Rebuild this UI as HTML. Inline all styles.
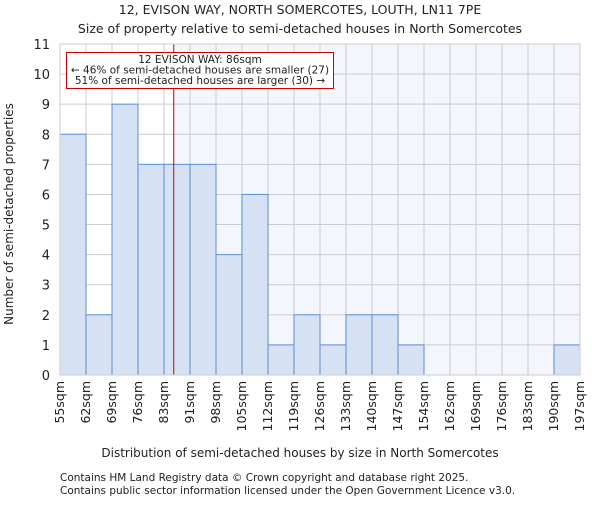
<!DOCTYPE html>
<html><head><meta charset="utf-8"><style>
body{margin:0;background:#fff;}
svg text{font-family:"DejaVu Sans","Liberation Sans",sans-serif;fill:#222;}
</style></head><body>
<svg width="600" height="500" xmlns="http://www.w3.org/2000/svg">
<text x="300" y="14" text-anchor="middle" font-size="12.5">12, EVISON WAY, NORTH SOMERCOTES, LOUTH, LN11 7PE</text>
<text x="300" y="33" text-anchor="middle" font-size="12.5">Size of property relative to semi-detached houses in North Somercotes</text>
<g id="plot"></g>
<text x="300" y="457" text-anchor="middle" font-size="12">Distribution of semi-detached houses by size in North Somercotes</text>
<text transform="translate(13,214) rotate(-90)" text-anchor="middle" font-size="12">Number of semi-detached properties</text>
<text x="60" y="481" font-size="10.5">Contains HM Land Registry data © Crown copyright and database right 2025.</text>
<text x="60" y="494" font-size="10.5">Contains public sector information licensed under the Open Government Licence v3.0.</text>
</svg>
<script>
const binLabels=["55sqm","62sqm","69sqm","76sqm","83sqm","91sqm","98sqm","105sqm","112sqm","119sqm","126sqm","133sqm","140sqm","147sqm","154sqm","162sqm","169sqm","176sqm","183sqm","190sqm","197sqm"];
const binEdges=[55,62,69,76,83,91,98,105,112,119,126,133,140,147,154,162,169,176,183,190,197];
const counts=[8,2,9,7,7,7,4,6,1,2,1,2,2,1,0,0,0,0,0,1];
const yTicks=[0,1,2,3,4,5,6,7,8,9,10,11];
const propertySize=86;
const NS="http://www.w3.org/2000/svg";
const L=60,R=580,T=44,B=375,yMax=11;
const n=counts.length,bw=(R-L)/n;
const xi=i=>L+i*bw;
const xv=v=>{let i=0;while(i<binEdges.length-2&&v>binEdges[i+1])i++;return xi(i)+(v-binEdges[i])/(binEdges[i+1]-binEdges[i])*bw;};
const y=v=>B-v/yMax*(B-T);
const g=document.getElementById('plot');
function mk(t,a){const e=document.createElementNS(NS,t);for(const k in a)e.setAttribute(k,a[k]);g.appendChild(e);return e;}
const px=xv(propertySize);
let e=mk('rect',{x:px,y:T,width:R-px,height:B-T,fill:'#f3f6fc'});


yTicks.forEach(t=>{
 let l=mk('line',{x1:L,x2:R,y1:y(t),y2:y(t),stroke:'#ccc','stroke-width':1});
 
 
 let tx=mk('text',{x:L-10,y:y(t)+5,'text-anchor':'end','font-size':13});
 tx.textContent=t;
 
 
});
binLabels.forEach((s,i)=>{
 let l=mk('line',{x1:xi(i),x2:xi(i),y1:T,y2:B,stroke:'#ccc','stroke-width':1});
 
 
 let tx=mk('text',{'text-anchor':'end','font-size':12.5,transform:`translate(${xi(i)+4},${B+6}) rotate(-90)`});
 tx.textContent=s;
 
 
});
counts.forEach((c,i)=>{
 if(c<=0)return;
 let r=mk('rect',{x:xi(i),y:y(c),width:bw,height:B-y(c),fill:'#d6e2f3',stroke:'#5b8fd6','stroke-width':1});
 
 
});
e=mk('line',{x1:px,x2:px,y1:T,y2:B,stroke:'#cc0000','stroke-width':1});


e=mk('rect',{x:66.5,y:52.5,width:267,height:36,fill:'#fff',stroke:'#cc0000','stroke-width':1});


[["12 EVISON WAY: 86sqm",62.5],["← 46% of semi-detached houses are smaller (27)",73],["51% of semi-detached houses are larger (30) →",83.5]].forEach(([s,yy])=>{
 let t=mk('text',{x:200,y:yy+0.5,'text-anchor':'middle','font-size':10.5});
 t.textContent=s;
 
 
});
e=mk('rect',{x:L,y:T,width:R-L,height:B-T,fill:'none',stroke:'#ccc'});


</script>
</body></html>
